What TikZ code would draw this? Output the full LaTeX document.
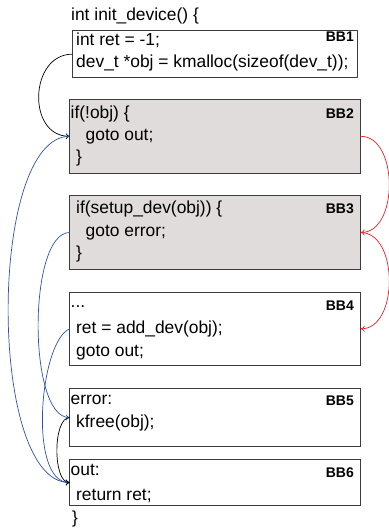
\documentclass[tikz,border=0pt]{standalone}
\usepackage{fontspec}
\setmainfont{Liberation Sans}
\usetikzlibrary{arrows.meta}
\definecolor{boxgray}{RGB}{224,220,220}
\definecolor{boxline}{RGB}{60,60,60}
\definecolor{cfgblue}{RGB}{48,80,176}
\definecolor{cfgred}{RGB}{232,32,42}
\tikzset{
  bbox/.style={draw=boxline, line width=1pt, inner sep=0pt, outer sep=0pt, anchor=north west, minimum width=291pt},
  graybox/.style={bbox, fill=boxgray},
  code/.style={anchor=base west, inner sep=0pt, font=\fontsize{17.4}{20}\selectfont},
  lbl/.style={anchor=base east, inner sep=0pt, font=\fontsize{14}{16}\selectfont\bfseries},
  edge/.style={line width=0.7pt, -{To[length=4pt,width=6pt]}},
}
\begin{document}
\begin{tikzpicture}[x=1pt,y=-1pt]
\useasboundingbox (0,0) rectangle (388,529);
% boxes
\node[bbox, minimum width=285.5pt, minimum height=47pt] (bb1) at (72.3,30.7) {};
\node[graybox, minimum height=74pt] (bb2) at (69.7,99.3) {};
\node[graybox, minimum height=73.6pt] (bb3) at (69.7,195.7) {};
\node[bbox, minimum height=73pt] (bb4) at (69.7,292.3) {};
\node[bbox, minimum height=58.4pt] (bb5) at (69.7,388.3) {};
\node[bbox, minimum height=46.4pt] (bb6) at (69.7,459.3) {};
% text
\node[code] (t0) at (71,21) {int init\_device() \{};
\node[code] (t1a) at (76,45.5) {int ret = -1;};
\node[code] (t1b) at (76,68) {dev\_t *obj = kmalloc(sizeof(dev\_t));};
\node[code] (t2a) at (70.5,118.5) {if(!obj) \{};
\node[code] (t2b) at (85.5,141) {goto out;};
\node[code] (t2c) at (76,163) {\}};
\node[code] (t3a) at (76,214) {if(setup\_dev(obj)) \{};
\node[code] (t3b) at (85.5,236.5) {goto error;};
\node[code] (t3c) at (76,258) {\}};
\node[code] (t4a) at (70.5,307.5) {...};
\node[code] (t4b) at (76,333) {ret = add\_dev(obj);};
\node[code] (t4c) at (76,356) {goto out;};
\node[code] (t5a) at (70.5,404) {error:};
\node[code] (t5b) at (76,427) {kfree(obj);};
\node[code] (t6a) at (70.5,475) {out:};
\node[code] (t6b) at (76,500) {return ret;};
\node[code] (t7) at (72,523) {\}};
% labels
\node[lbl] (l1) at (354,41.7) {BB1};
\node[lbl] (l2) at (354,119) {BB2};
\node[lbl] (l3) at (354,214) {BB3};
\node[lbl] (l4) at (354,310) {BB4};
\node[lbl] (l5) at (354,405.7) {BB5};
\node[lbl] (l6) at (354,477) {BB6};
% edges
\draw[edge, black] (bb1.west) .. controls +(-43,0) and +(-43,0) .. (bb2.west);
\draw[edge, cfgblue] (bb2.west) .. controls +(-82,0) and +(-82,0) .. (bb6.west);
\draw[edge, cfgblue] (bb3.west) .. controls +(-42,0) and +(-42,0) .. (bb5.west);
\draw[edge, cfgblue] (bb4.west) .. controls +(-30,12) and +(-42,0) .. (bb6.west);
\draw[edge, black] (bb5.west) .. controls +(-17,0) and +(-17,0) .. (bb6.west);
\draw[edge, cfgred] (bb2.east) .. controls +(38,0) and +(38,0) .. (bb3.east);
\draw[edge, cfgred] (bb3.east) .. controls +(38,0) and +(38,0) .. (bb4.east);
\end{tikzpicture}
\end{document}
